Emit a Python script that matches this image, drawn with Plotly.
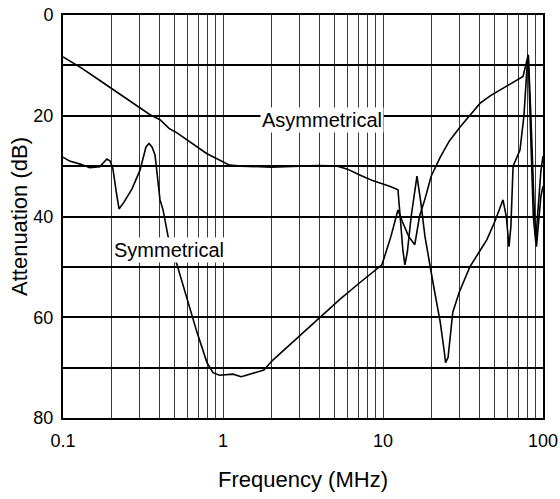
import plotly.graph_objects as go

# Symmetrical attenuation curve (frequency MHz, attenuation dB)
sym_freq = [0.1, 0.11, 0.128, 0.147, 0.17, 0.18, 0.188, 0.197, 0.205, 0.215, 0.224, 0.24, 0.27,
            0.303, 0.316, 0.33, 0.345, 0.36, 0.376, 0.39, 0.404, 0.422, 0.454, 0.516, 0.56, 0.604,
            0.688, 0.794, 0.866, 0.95, 1.155, 1.3, 1.54, 1.8, 2.05, 2.5, 3.03, 4.03, 5.35, 7.12,
            9.85, 11.2, 12.4, 13.2, 14.5, 15.8, 16.9, 18.3, 20, 22.8, 26, 30.4, 35, 40.5, 47, 54,
            61, 68.6, 72, 75, 78, 80.8, 84, 87, 90, 93, 97, 100]
sym_db = [28.2, 29.0, 29.6, 30.3, 30.1, 29.2, 28.6, 29.0, 30.5, 35, 38.5, 37.2, 34.5,
          30.8, 28.2, 26.2, 25.5, 26.2, 27.8, 32, 36.7, 38.7, 44, 49.6, 53.5, 57,
          63, 69, 71, 71.5, 71.3, 71.8, 71.2, 70.5, 68.5, 66, 63.5, 59.9, 56.5, 53.2,
          49.6, 44, 38.7, 41, 44, 45.6, 40, 36.5, 32, 28.2, 25, 22.2, 20, 17.5, 16, 14.9,
          13.8, 12.9, 12.5, 12.2, 10, 7.9, 25, 40, 45, 38, 31, 28]

# Asymmetrical attenuation curve
asym_freq = [0.1, 0.13, 0.17, 0.208, 0.27, 0.35, 0.404, 0.46, 0.516, 0.6, 0.69, 0.79, 0.91, 1.1,
             1.3, 2, 3, 4, 5.2, 6, 7.1, 8.5, 11, 12.4, 12.8, 13.3, 13.7, 14.2, 15, 16.3, 17.2,
             18.3, 20.5, 22.8, 24.2, 24.6, 25.5, 27.3, 30, 34.9, 40, 44.6, 50, 56.2, 59, 61.3,
             63, 65, 71.8, 76, 79.6, 81, 84, 88, 91, 94, 97, 100]
asym_db = [8.3, 10.5, 13, 14.9, 17.5, 19.8, 20.8, 22.5, 23.4, 24.8, 26.2, 27.5, 28.5, 29.8,
           30, 30.2, 30, 29.9, 30, 30.6, 31.7, 32.8, 34, 34.7, 40, 46.6, 49.6, 47, 40, 32, 37,
           44, 53, 61, 67, 69, 68, 59, 55, 50, 47, 44.6, 41, 36.7, 40, 46,
           42, 30, 26.8, 20, 10, 8, 20, 38, 46, 40, 36, 34]

x_ticks = [0.1, 0.2, 0.3, 0.4, 0.5, 0.6, 0.7, 0.8, 0.9,
           1, 2, 3, 4, 5, 6, 7, 8, 9,
           10, 20, 30, 40, 50, 60, 70, 80, 90, 100]
x_labels = {0.1: "0.1", 1: "1", 10: "10", 100: "100"}
y_ticks = [0, 10, 20, 30, 40, 50, 60, 70, 80]
y_labels = {0: "0", 20: "20", 40: "40", 60: "60", 80: "80"}

FONT = "Liberation Sans, Arial, sans-serif"

fig = go.Figure()
fig.add_trace(go.Scatter(x=asym_freq, y=asym_db, mode="lines",
                         line=dict(color="black", width=1.6), name="Asymmetrical"))
fig.add_trace(go.Scatter(x=sym_freq, y=sym_db, mode="lines",
                         line=dict(color="black", width=1.6), name="Symmetrical"))

fig.add_annotation(x=0.618, y=20.8, text="Asymmetrical", showarrow=False,
                   font=dict(family=FONT, size=20, color="black"), bgcolor="white")
fig.add_annotation(x=-0.337, y=46.6, text="Symmetrical", showarrow=False,
                   font=dict(family=FONT, size=20, color="black"), bgcolor="white")

fig.update_layout(
    width=560, height=499,
    margin=dict(l=63, r=17, t=15, b=81, autoexpand=False),
    paper_bgcolor="white", plot_bgcolor="white",
    showlegend=False,
    font=dict(family=FONT, color="black"),
    xaxis=dict(
        type="log", range=[-1, 2], automargin=False,
        tickvals=x_ticks, ticktext=[x_labels.get(v, "") for v in x_ticks],
        showgrid=True, gridcolor="#3a3a3a", gridwidth=1.3,
        showline=True, linecolor="black", linewidth=2, mirror=True,
        ticks="", ticklabelstandoff=5,
        tickfont=dict(size=18),
        title=dict(text="Frequency (MHz)", font=dict(size=22), standoff=22),
        zeroline=False,
    ),
    yaxis=dict(
        range=[80, 0], automargin=False,
        tickvals=y_ticks, ticktext=[y_labels.get(v, "") for v in y_ticks],
        showgrid=True, gridcolor="black", gridwidth=1.6,
        showline=True, linecolor="black", linewidth=2, mirror=True,
        ticks="", ticklabelstandoff=4,
        tickfont=dict(size=18),
        title=dict(text="Attenuation (dB)", font=dict(size=22), standoff=0),
        zeroline=False,
    ),
)

fig.write_html("out.html", config={"displayModeBar": False},
               post_script="document.body.style.margin='0';")
